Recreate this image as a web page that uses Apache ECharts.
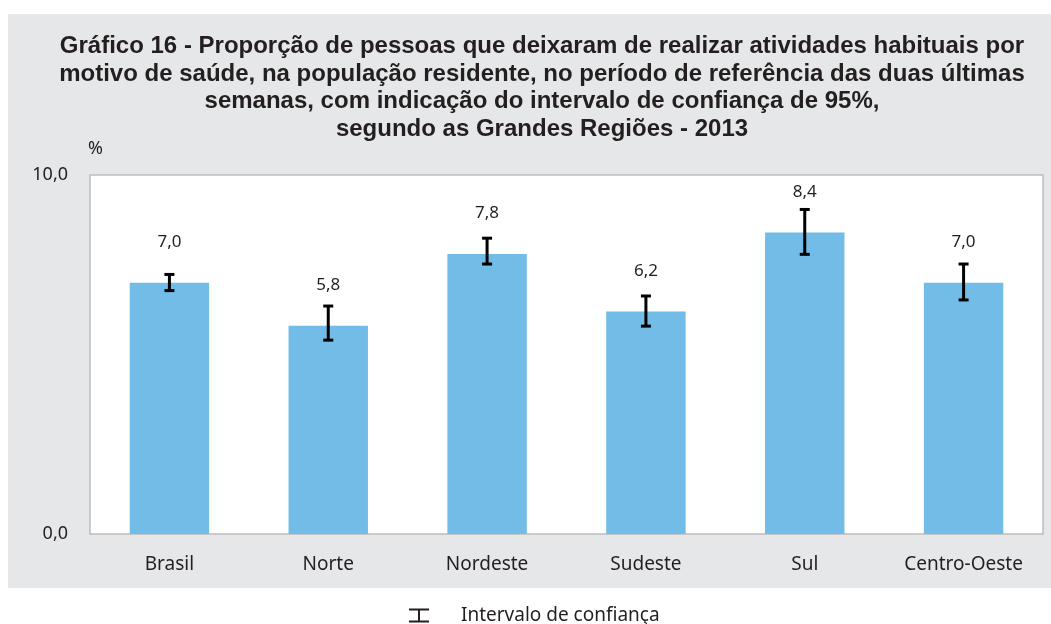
<!DOCTYPE html>
<html>
<head>
<meta charset="utf-8">
<script src="https://cdn.jsdelivr.net/npm/echarts@6/dist/echarts.min.js"></script>
<style>
  html, body { margin: 0; padding: 0; background: #fff; }
  #chart { width: 1051px; height: 624px; }
</style>
</head>
<body>
<div id="chart"></div>
<script>
// dados
const regioes = ['Brasil', 'Norte', 'Nordeste', 'Sudeste', 'Sul', 'Centro-Oeste']
const proporcao = [7.0, 5.8, 7.8, 6.2, 8.4, 7.0]
const icInferior = [6.78, 5.40, 7.52, 5.79, 7.79, 6.52]
const icSuperior = [7.23, 6.35, 8.24, 6.63, 9.04, 7.52]
const yTicks = [0, 10]

const fmt = (v) => v.toFixed(1).replace('.', ',')
const labelFont = '"Noto Sans", "Liberation Sans", sans-serif'

const chart = echarts.init(document.getElementById('chart'))

const option = {
  backgroundColor: '#fff',
  animation: false,
  graphic: [
    { type: 'rect', z: -10, shape: { x: 8, y: 14, width: 1043, height: 574 }, style: { fill: '#e6e7e8' } },
    { type: 'text', left: 88, top: 140, style: { text: '%', font: '18px ' + labelFont, fill: '#231f20' } },
  ],
  title: {
    text: 'Gráfico 16 - Proporção de pessoas que deixaram de realizar atividades habituais por\n' +
      'motivo de saúde, na população residente, no período de referência das duas últimas\n' +
      'semanas, com indicação do intervalo de confiança de 95%,\n' +
      'segundo as Grandes Regiões - 2013',
    left: 537,
    top: 28,
    textAlign: 'center',
    textStyle: {
      fontFamily: '"Liberation Sans", Arial, sans-serif',
      fontWeight: 'bold',
      fontSize: 24,
      lineHeight: 27.5,
      color: '#231f20',
    },
  },
  legend: {
    top: 601,
    left: 404,
    itemWidth: 22,
    itemHeight: 14,
    data: [{
      name: 'Intervalo de confiança',
      icon: 'path://M0,0 L20,0 L20,2 L11,2 L11,12 L20,12 L20,14 L0,14 L0,12 L9,12 L9,2 L0,2 Z',
      itemStyle: { color: '#231f20' },
    }],
    textStyle: { fontFamily: labelFont, fontSize: 19, color: '#231f20', padding: [0, 0, 0, 26] },
  },
  grid: {
    left: 90, right: 8, top: 175, bottom: 90,
    show: true, backgroundColor: '#fff', borderColor: '#bdbdbd', borderWidth: 1.5,
  },
  xAxis: {
    type: 'category',
    data: regioes,
    axisLine: { show: false },
    axisTick: { show: false },
    axisLabel: { margin: 21, fontFamily: labelFont, fontSize: 19, color: '#231f20' },
  },
  yAxis: {
    type: 'value',
    min: yTicks[0],
    max: yTicks[yTicks.length - 1],
    interval: 10,
    splitLine: { show: false },
    axisLine: { show: false },
    axisTick: { show: false },
    axisLabel: { margin: 22, fontFamily: labelFont, fontSize: 18, color: '#231f20', formatter: fmt },
  },
  series: [
    {
      type: 'bar',
      data: proporcao,
      barWidth: '50%',
      itemStyle: { color: '#72bce8' },
      label: {
        show: true, position: 'top', distance: 32,
        fontFamily: labelFont, fontSize: 17, color: '#231f20',
        formatter: (p) => fmt(p.value),
      },
    },
    {
      type: 'custom',
      name: 'Intervalo de confiança',
      data: regioes.map((_, i) => [i, icInferior[i], icSuperior[i]]),
      encode: { x: 0, y: [1, 2] },
      z: 10,
      renderItem: (params, api) => {
        const lo = api.coord([api.value(0), api.value(1)])
        const hi = api.coord([api.value(0), api.value(2)])
        const hw = 5
        const st = { stroke: '#000', lineWidth: 3 }
        return {
          type: 'group',
          children: [
            { type: 'line', shape: { x1: lo[0], y1: lo[1], x2: hi[0], y2: hi[1] }, style: st },
            { type: 'line', shape: { x1: lo[0] - hw, y1: lo[1], x2: lo[0] + hw, y2: lo[1] }, style: st },
            { type: 'line', shape: { x1: hi[0] - hw, y1: hi[1], x2: hi[0] + hw, y2: hi[1] }, style: st },
          ],
        }
      },
    },
  ],
}

chart.setOption(option)
</script>
</body>
</html>
